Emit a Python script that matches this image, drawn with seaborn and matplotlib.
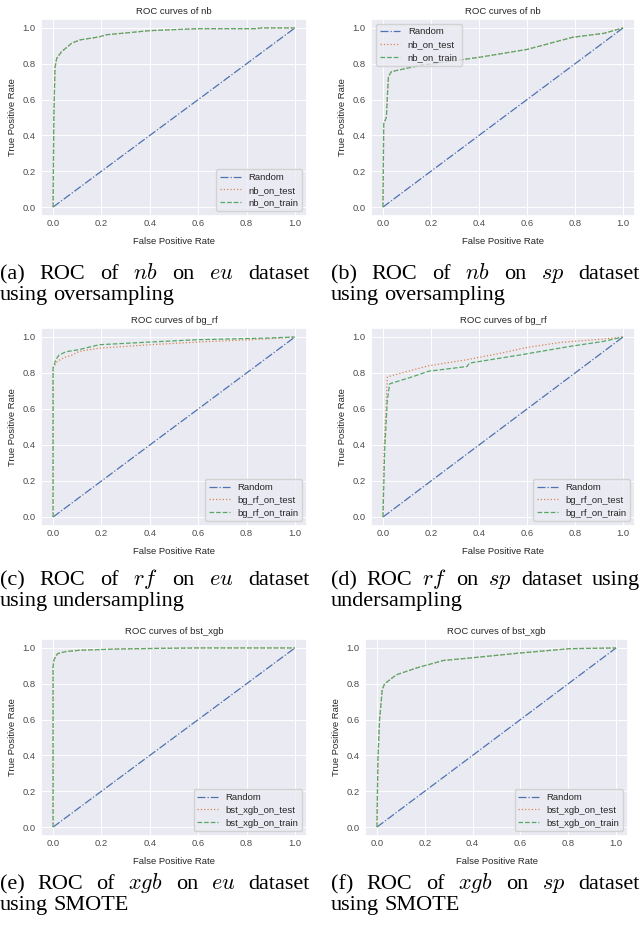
import matplotlib
matplotlib.use("Agg")
import matplotlib.pyplot as plt
import seaborn as sns

# -----------------------------
# Datos (FPR / TPR)
# -----------------------------
random_fpr = [0.0, 1.0]
random_tpr = [0.0, 1.0]

# (a) nb en eu
nb_eu_fpr = [0.0, 0.003, 0.008, 0.015, 0.034, 0.076, 0.11, 0.19, 0.22, 0.30, 0.40, 0.60, 0.84, 0.86, 1.0]
nb_eu_tpr = [0.0, 0.50, 0.78, 0.83, 0.866, 0.914, 0.933, 0.95, 0.962, 0.972, 0.985, 0.996, 0.996, 1.0, 1.0]

# (b) nb en sp
nb_sp_fpr = [0.0, 0.003, 0.014, 0.019, 0.023, 0.035, 0.15, 0.40, 0.60, 0.79, 0.92, 1.0]
nb_sp_tpr = [0.0, 0.466, 0.50, 0.64, 0.73, 0.756, 0.79, 0.836, 0.88, 0.948, 0.97, 1.0]

# (c) bg_rf en eu
rf_eu_test_fpr = [0.0, 0.0, 0.018, 0.053, 0.073, 0.108, 0.19, 0.40, 0.60, 0.88, 1.0]
rf_eu_test_tpr = [0.0, 0.83, 0.866, 0.89, 0.896, 0.92, 0.938, 0.957, 0.972, 0.989, 1.0]
rf_eu_train_fpr = [0.0, 0.0, 0.011, 0.025, 0.053, 0.108, 0.19, 0.40, 0.60, 0.88, 1.0]
rf_eu_train_tpr = [0.0, 0.827, 0.874, 0.90, 0.918, 0.93, 0.957, 0.972, 0.985, 0.994, 1.0]

# (d) bg_rf en sp
rf_sp_test_fpr = [0.0, 0.004, 0.011, 0.018, 0.035, 0.19, 0.35, 0.49, 0.60, 0.74, 0.92, 1.0]
rf_sp_test_tpr = [0.0, 0.37, 0.56, 0.777, 0.785, 0.84, 0.874, 0.91, 0.942, 0.97, 0.989, 1.0]
rf_sp_train_fpr = [0.0, 0.007, 0.018, 0.028, 0.125, 0.19, 0.35, 0.36, 0.57, 0.78, 0.92, 1.0]
rf_sp_train_tpr = [0.0, 0.37, 0.65, 0.74, 0.78, 0.81, 0.836, 0.855, 0.90, 0.948, 0.976, 1.0]

# (e) bst_xgb en eu
xgb_eu_fpr = [0.0, 0.0, 0.004, 0.018, 0.053, 0.108, 0.26, 0.45, 0.60, 1.0]
xgb_eu_tpr = [0.0, 0.897, 0.935, 0.968, 0.98, 0.987, 0.994, 0.998, 1.0, 1.0]

# (f) bst_xgb en sp
xgb_sp_fpr = [0.0, 0.004, 0.011, 0.022, 0.032, 0.081, 0.165, 0.277, 0.39, 0.60, 0.807, 1.0]
xgb_sp_tpr = [0.0, 0.374, 0.60, 0.766, 0.80, 0.85, 0.888, 0.93, 0.944, 0.972, 0.996, 1.0]

# Titulos, leyendas y pies de figura
model_names = ["nb", "nb", "bg_rf", "bg_rf", "bst_xgb", "bst_xgb"]
legend_locs = ["lower right", "upper left", "lower right", "lower right", "lower right", "lower right"]
captions = [
    ("(a) ROC of $nb$ on $eu$ dataset", "using oversampling"),
    ("(b) ROC of $nb$ on $sp$ dataset", "using oversampling"),
    ("(c) ROC of $rf$ on $eu$ dataset", "using undersampling"),
    ("(d) ROC $rf$ on $sp$ dataset using", "undersampling"),
    ("(e) ROC of $xgb$ on $eu$ dataset", "using SMOTE"),
    ("(f) ROC of $xgb$ on $sp$ dataset", "using SMOTE"),
]

curves = [
    (nb_eu_fpr, nb_eu_tpr, nb_eu_fpr, nb_eu_tpr),
    (nb_sp_fpr, nb_sp_tpr, nb_sp_fpr, nb_sp_tpr),
    (rf_eu_test_fpr, rf_eu_test_tpr, rf_eu_train_fpr, rf_eu_train_tpr),
    (rf_sp_test_fpr, rf_sp_test_tpr, rf_sp_train_fpr, rf_sp_train_tpr),
    (xgb_eu_fpr, xgb_eu_tpr, xgb_eu_fpr, xgb_eu_tpr),
    (xgb_sp_fpr, xgb_sp_tpr, xgb_sp_fpr, xgb_sp_tpr),
]

# -----------------------------
# Estilo
# -----------------------------
FS = 6.8
sns.set_theme(style="darkgrid", rc={
    "grid.linewidth": 0.7,
    "axes.titlesize": FS,
    "axes.labelsize": FS,
    "xtick.labelsize": FS,
    "ytick.labelsize": FS,
    "legend.fontsize": FS,
    "xtick.major.size": 0,
    "ytick.major.size": 0,
    "xtick.major.pad": 2.5,
    "ytick.major.pad": 4,
    "text.color": "#262626",
    "xtick.color": "#4d4d4d",
    "ytick.color": "#4d4d4d",
})
plt.rcParams["font.family"] = ["Liberation Sans", "DejaVu Sans"]
plt.rcParams["mathtext.fontset"] = "cm"

pal = sns.color_palette("deep")

W, H = 641, 931
fig = plt.figure(figsize=(W / 100, H / 100), dpi=100)

# posiciones de los ejes en pixeles (izq, arriba, der, abajo)
boxes = [
    (41, 19, 307, 216), (371, 19, 635, 216),
    (41, 328, 307, 526), (371, 328, 635, 526),
    (41, 639, 307, 836), (365, 639, 628, 836),
]
caption_x = [(0, 310), (331, 640)] * 3
caption_y = [279, 279, 585, 585, 889, 889]
LINE_GAP = 21


def justify_line(text, x0, x1, ybase, justify=True):
    """Dibuja una linea de texto justificada entre x0 y x1 (pixeles)."""
    words = text.split(" ")
    renderer = fig.canvas.get_renderer()
    objs = []
    for w in words:
        t = fig.text(x0 / W, 1 - ybase / H, w, fontsize=16,
                     family=["Liberation Serif", "DejaVu Serif"],
                     color="black", ha="left", va="baseline")
        objs.append(t)
    widths = [t.get_window_extent(renderer).width for t in objs]
    if justify and len(words) > 1:
        gap = (x1 - x0 - sum(widths)) / (len(words) - 1)
    else:
        gap = 5.0
    x = x0
    for t, wd in zip(objs, widths):
        t.set_x(x / W)
        x += wd + gap


for i, (l, t, r, b) in enumerate(boxes):
    ax = fig.add_axes([l / W, 1 - b / H, (r - l) / W, (b - t) / H])
    test_x, test_y, train_x, train_y = curves[i]
    name = model_names[i]
    sns.lineplot(x=random_fpr, y=random_tpr, ax=ax, sort=False, estimator=None,
                 color=pal[0], linestyle="-.", linewidth=0.9, label="Random")
    sns.lineplot(x=test_x, y=test_y, ax=ax, sort=False, estimator=None,
                 color=pal[1], linestyle=":", linewidth=0.9, label=f"{name}_on_test")
    sns.lineplot(x=train_x, y=train_y, ax=ax, sort=False, estimator=None,
                 color=pal[2], linestyle="--", linewidth=0.9, label=f"{name}_on_train")
    ax.set_title(f"ROC curves of {name}", pad=3.5)
    ax.set_xlabel("False Positive Rate", labelpad=6)
    ax.set_ylabel("True Positive Rate", labelpad=4)
    ax.set_xticks([0.0, 0.2, 0.4, 0.6, 0.8, 1.0])
    ax.set_yticks([0.0, 0.2, 0.4, 0.6, 0.8, 1.0])
    ax.legend(loc=legend_locs[i], fontsize=FS, handlelength=2.2, borderpad=0.4,
              labelspacing=0.4, framealpha=0.8)

    x0, x1 = caption_x[i]
    justify_line(captions[i][0], x0, x1, caption_y[i], justify=True)
    justify_line(captions[i][1], x0, x1, caption_y[i] + LINE_GAP, justify=False)

fig.savefig("out.png", dpi=100)
